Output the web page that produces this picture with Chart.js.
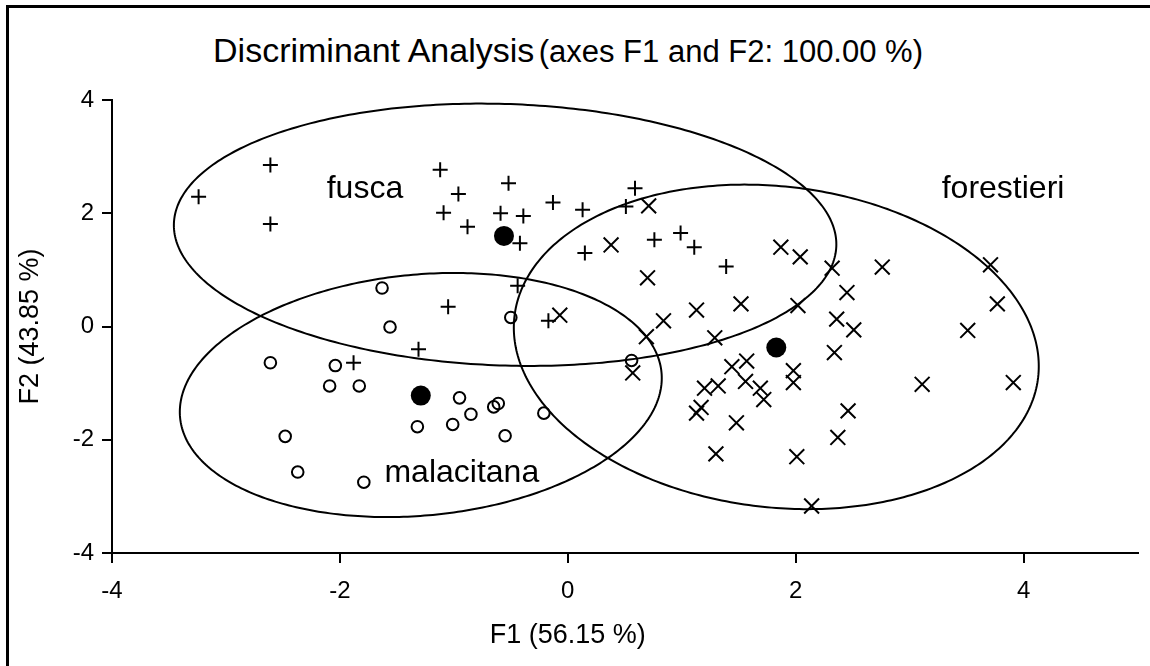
<!DOCTYPE html>
<html><head><meta charset="utf-8">
<script src="https://cdn.jsdelivr.net/npm/chart.js@4.4.1/dist/chart.umd.min.js"></script>
<style>
html,body{margin:0;padding:0;background:#fff;}
#wrap{position:relative;width:1150px;height:666px;overflow:hidden;background:#fff;}
#frame{position:absolute;left:6px;top:5px;width:2000px;height:2000px;border-left:3px solid #000;border-top:3px solid #000;}
#title{position:absolute;left:0;width:1136px;top:33px;text-align:center;font-family:"Liberation Sans",Arial,sans-serif;color:#000;white-space:nowrap;line-height:34px;}
.t1{font-size:34px}.t2{font-size:31px}
canvas{position:absolute;left:0;top:0}
</style></head>
<body><div id="wrap"><div id="frame"></div><div id="title"><span class="t1">Discriminant Analysis</span> <span class="t2">(axes F1 and F2: 100.00 %)</span></div><canvas id="c" width="1150" height="666"></canvas></div>
<script>
const FONT = '"Liberation Sans", Arial, sans-serif';
// ---- data ----
const fuscaX = [-3.24,-2.61,-2.61,-1.12,-1.09,-0.96,-0.88,-0.52,-0.59,-0.39,-0.42,-0.13,0.13,0.59,0.51,0.15,0.76,0.99,1.11,1.39,-0.44,-1.05,-0.17,-1.31,-1.88];
const fuscaY = [2.29,2.85,1.81,2.77,2.01,2.34,1.76,2.53,2.00,1.95,1.47,2.19,2.06,2.44,2.12,1.30,1.53,1.65,1.40,1.06,0.72,0.35,0.10,-0.40,-0.64];
const malacitanaX = [-1.63,-1.56,-0.50,-2.61,-2.04,-2.09,-1.83,-0.95,-0.85,-1.01,-0.65,-0.61,-0.21,-0.55,-1.32,-2.48,-2.37,-1.79,0.56];
const malacitanaY = [0.68,-0.01,0.16,-0.64,-0.69,-1.05,-1.05,-1.26,-1.55,-1.73,-1.42,-1.36,-1.53,-1.93,-1.77,-1.94,-2.57,-2.75,-0.60];
const forestieriX = [0.38,0.71,0.70,1.87,2.04,2.32,2.76,3.71,2.45,3.77,1.52,2.02,1.13,2.36,2.51,3.51,-0.07,0.84,0.69,1.29,0.57,2.34,1.57,1.44,1.98,1.98,1.56,1.32,1.20,1.69,1.72,3.11,3.91,1.17,1.13,1.48,2.46,2.37,1.30,2.01,2.14];
const forestieriY = [1.44,2.13,0.86,1.40,1.23,1.03,1.05,1.09,0.60,0.40,0.40,0.37,0.29,0.13,-0.06,-0.07,0.20,0.10,-0.18,-0.20,-0.82,-0.46,-0.61,-0.71,-0.78,-0.99,-0.97,-1.05,-1.09,-1.09,-1.29,-1.02,-0.99,-1.43,-1.53,-1.70,-1.49,-1.96,-2.25,-2.30,-3.17];
const centroidX = [-0.56,-1.29,1.83];
const centroidY = [1.60,-1.22,-0.37];
// confidence ellipses (data units): centre, semi-axes, rotation (deg)
const ellipseCX = [-0.55,-1.29,1.83];
const ellipseCY = [1.62,-1.21,-0.36];
const ellipseR1 = [2.92,2.28,2.90];
const ellipseR2 = [2.30,1.98,2.26];
const ellipseAngle = [-8.8,48.9,-75.8];
// group labels
const groupNames = ['fusca','malacitana','forestieri'];
const groupLabelX = [-1.78,-0.93,3.82];
const groupLabelY = [2.27,-2.74,2.27];
// ticks and axis titles
const xTickValues = [-4,-2,0,2,4];
const xTickLabels = ['-4','-2','0','2','4'];
const yTickValues = [-4,-2,0,2,4];
const yTickLabels = ['-4','-2','0','2','4'];
const xAxisTitle = 'F1 (56.15 %)';
const yAxisTitle = 'F2 (43.85 %)';

const pts = (xs, ys) => xs.map((v,i)=>({x:v, y:ys[i]}));

const ellipsePlugin = {
  id:'ellipses',
  afterDatasetsDraw(chart){
    const {ctx, scales:{x, y}} = chart;
    ctx.save();
    ctx.strokeStyle = '#000'; ctx.lineWidth = 2;
    for (let k=0;k<ellipseCX.length;k++){
      const th = ellipseAngle[k]*Math.PI/180;
      ctx.beginPath();
      for (let i=0;i<=360;i++){
        const t = i*Math.PI/180;
        const dx = ellipseR1[k]*Math.cos(t)*Math.cos(th) - ellipseR2[k]*Math.sin(t)*Math.sin(th);
        const dy = ellipseR1[k]*Math.cos(t)*Math.sin(th) + ellipseR2[k]*Math.sin(t)*Math.cos(th);
        const px = x.getPixelForValue(ellipseCX[k]+dx), py = y.getPixelForValue(ellipseCY[k]+dy);
        if (i===0) ctx.moveTo(px,py); else ctx.lineTo(px,py);
      }
      ctx.closePath(); ctx.stroke();
    }
    ctx.font = '32px ' + FONT;
    ctx.fillStyle = '#000'; ctx.textAlign = 'center'; ctx.textBaseline = 'alphabetic';
    for (let k=0;k<groupNames.length;k++){
      ctx.fillText(groupNames[k], x.getPixelForValue(groupLabelX[k]), y.getPixelForValue(groupLabelY[k]));
    }
    // x axis title, centred under x = 0 as in the original layout
    ctx.font = '27px ' + FONT;
    ctx.textBaseline = 'middle';
    ctx.fillText(xAxisTitle, x.getPixelForValue(0), 636);
    ctx.restore();
  }
};

const axisCommon = {
  grid:{drawOnChartArea:false, drawTicks:true, tickLength:10, color:'#000', lineWidth:2},
  border:{display:true, color:'#000', width:2},
};

new Chart(document.getElementById('c'), {
  type:'scatter',
  data:{datasets:[
    {label:'fusca', data:pts(fuscaX,fuscaY), pointStyle:'cross', pointRadius:7.5, borderColor:'#000', backgroundColor:'rgba(0,0,0,0)', borderWidth:2},
    {label:'malacitana', data:pts(malacitanaX,malacitanaY), pointStyle:'circle', pointRadius:5.8, borderColor:'#000', backgroundColor:'rgba(0,0,0,0)', borderWidth:2},
    {label:'forestieri', data:pts(forestieriX,forestieriY), pointStyle:'crossRot', pointRadius:10.5, borderColor:'#000', backgroundColor:'rgba(0,0,0,0)', borderWidth:2},
    {label:'centroids', data:pts(centroidX,centroidY), pointStyle:'circle', pointRadius:10, borderColor:'#000', backgroundColor:'#000', borderWidth:0}
  ]},
  options:{
    responsive:false, animation:false, devicePixelRatio:1, events:[],
    layout:{padding:{left:0, right:12, top:100, bottom:0}},
    plugins:{legend:{display:false}, tooltip:{enabled:false}, title:{display:false}},
    scales:{
      x:{type:'linear', min:-4, max:5, ...axisCommon,
        afterBuildTicks:s=>{s.ticks = xTickValues.map(v=>({value:v}));},
        afterFit:s=>{s.height = 113;},
        ticks:{autoSkip:false, maxRotation:0, color:'#000', padding:14, font:{family:FONT, size:24},
          callback:(v)=>xTickLabels[xTickValues.indexOf(v)]},
        title:{display:false}
      },
      y:{type:'linear', min:-4, max:4, ...axisCommon,
        afterBuildTicks:s=>{s.ticks = yTickValues.map(v=>({value:v}));},
        afterFit:s=>{s.width = 112;},
        ticks:{autoSkip:false, color:'#000', padding:8, font:{family:FONT, size:24},
          callback:(v)=>yTickLabels[yTickValues.indexOf(v)]},
        title:{display:true, text:yAxisTitle, color:'#000', font:{family:FONT, size:27}, padding:{top:14,bottom:0}}
      }
    }
  },
  plugins:[ellipsePlugin]
});
</script>
</body></html>
